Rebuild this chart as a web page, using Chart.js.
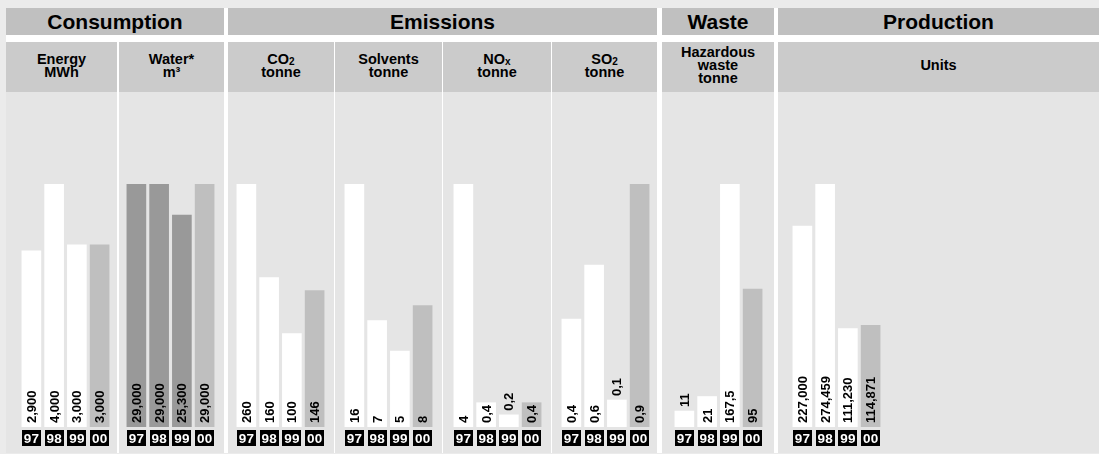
<!DOCTYPE html>
<html>
<head>
<meta charset="utf-8">
<script src="https://cdn.jsdelivr.net/npm/chart.js@4"></script>
<style>
  body { margin: 0; width: 1099px; height: 454px; background: #ebebeb; position: relative; overflow: hidden;
         font-family: "Liberation Sans", Arial, sans-serif; color: #000; }
  .blk { position: absolute; box-sizing: border-box; }
  .paper { left: 6px; top: 8px; width: 1093px; height: 445px; background: #fff; }
  .h1 { top: 8px; height: 27px; background: #c0c0c0; font-weight: bold; font-size: 21px;
        display: flex; align-items: center; justify-content: center; }
  .h2 { top: 42px; height: 50px; background: #cbcbcb; font-weight: bold; font-size: 14.5px; line-height: 13px;
        text-align: center; display: flex; align-items: center; justify-content: center; padding-bottom: 3px; }
  .h2 sub { font-size: 10px; vertical-align: -1px; line-height: 0; }
  .pl { top: 92px; height: 361px; background: #e5e5e5; }
  canvas { position: absolute; }
</style>
</head>
<body>
<script>
/* ===== Environmental key figures 1997–2000 ===== */
const YEARS = ['97', '98', '99', '00'];
const ENERGY = [2900, 4000, 3000, 3000];
const WATER = [29000, 29000, 25300, 29000];
const CO2 = [260, 160, 100, 146];
const SOLVENTS = [16, 7, 5, 8];
const NOX = [4, 0.4, 0.2, 0.4];
const SO2 = [0.4, 0.6, 0.1, 0.9];
const HAZ_WASTE = [11, 21, 167.5, 95];
const UNITS = [227000, 274459, 111230, 114871];

const GROUPS = [
  { name: 'Consumption', x0: 6, x1: 224 },
  { name: 'Emissions', x0: 228, x1: 657 },
  { name: 'Waste', x0: 662, x1: 774 },
  { name: 'Production', x0: 778, x1: 1099 }
];

const LIGHT = ['#fff', '#fff', '#fff', '#bfbfbf'];
const DARK = ['#999', '#999', '#999', '#bfbfbf'];

// layout of each sub panel; bar0 = left edge of first bar
const PANELS = [
  { head: 'Energy<br>MWh', data: ENERGY, x0: 6, x1: 117, bar0: 22, cols: LIGHT },
  { head: 'Water*<br>m³', data: WATER, x0: 119, x1: 224, bar0: 127, cols: DARK },
  { head: 'CO<sub>2</sub><br>tonne', data: CO2, x0: 228, x1: 334, bar0: 237, cols: LIGHT },
  { head: 'Solvents<br>tonne', data: SOLVENTS, x0: 335, x1: 442, bar0: 345, cols: LIGHT },
  { head: 'NO<sub>x</sub><br>tonne', data: NOX, x0: 443, x1: 551, bar0: 454, cols: LIGHT, above: [0, 0, 1, 0] },
  { head: 'SO<sub>2</sub><br>tonne', data: SO2, x0: 552, x1: 657, bar0: 562, cols: LIGHT, above: [0, 0, 1, 0] },
  { head: 'Hazardous<br>waste<br>tonne', data: HAZ_WASTE, x0: 662, x1: 774, bar0: 675, cols: LIGHT, above: [1, 0, 0, 0] },
  { head: 'Units', data: UNITS, x0: 778, x1: 1099, bar0: 793, cols: LIGHT }
];

const FONT = '"Liberation Sans", Arial, sans-serif';
const fmt = v => Number.isInteger(v) ? v.toLocaleString('en-US') : String(v).replace('.', ',');

function box(cls, x0, x1, html) {
  const d = document.createElement('div');
  d.className = 'blk ' + cls;
  d.style.left = x0 + 'px';
  d.style.width = (x1 - x0) + 'px';
  if (html) d.innerHTML = '<div>' + html + '</div>';
  document.body.appendChild(d);
  return d;
}

box('paper', 6, 1099);
GROUPS.forEach(g => box('h1', g.x0, g.x1, g.name));
PANELS.forEach(p => { box('h2', p.x0, p.x1, p.head); box('pl', p.x0, p.x1); });

// vertical value labels + black year tags
const barLabels = {
  id: 'barLabels',
  afterDatasetsDraw(chart, args, opts) {
    const { ctx, chartArea } = chart;
    const vals = chart.data.datasets[0].data;
    const above = opts.above || [];
    ctx.save();
    chart.getDatasetMeta(0).data.forEach((el, i) => {
      ctx.font = 'bold 13px ' + FONT;
      ctx.fillStyle = '#000';
      ctx.textAlign = 'left';
      ctx.textBaseline = 'alphabetic';
      ctx.save();
      ctx.translate(el.x, above[i] ? el.y - 4 : el.base - 4);
      ctx.rotate(-Math.PI / 2);
      ctx.fillText(fmt(vals[i]), 0, 4.6);
      ctx.restore();

      const ty = chartArea.bottom + 3;
      ctx.fillStyle = '#000';
      ctx.fillRect(Math.round(el.x - 9.5), ty, 19, 16);
      ctx.fillStyle = '#fff';
      ctx.textAlign = 'center';
      ctx.font = 'bold 13.5px ' + FONT;
      ctx.fillText(chart.data.labels[i], el.x, ty + 12.5);
    });
    ctx.restore();
  }
};

PANELS.forEach(p => {
  const cv = document.createElement('canvas');
  cv.width = 91; cv.height = 262;
  cv.style.left = (p.bar0 - 2) + 'px';
  cv.style.top = '184px';
  document.body.appendChild(cv);
  new Chart(cv, {
    type: 'bar',
    data: {
      labels: YEARS,
      datasets: [{ data: p.data, backgroundColor: p.cols, borderWidth: 0, barThickness: 19 }]
    },
    options: {
      responsive: false, animation: false, events: [],
      layout: { padding: { top: 0, bottom: 19, left: 0, right: 0 } },
      plugins: { legend: { display: false }, tooltip: { enabled: false }, barLabels: { above: p.above } },
      scales: {
        x: { display: false },
        y: { display: false, min: 0, max: Math.max(...p.data) }
      }
    },
    plugins: [barLabels]
  });
});
</script>
</body>
</html>
